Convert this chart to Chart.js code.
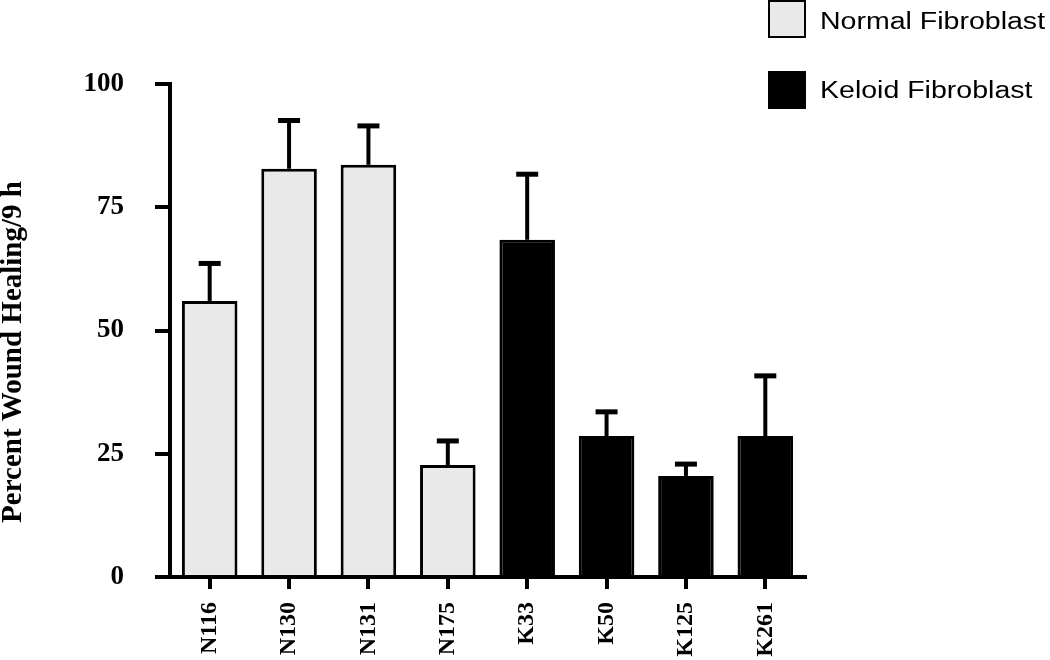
<!DOCTYPE html>
<html>
<head>
<meta charset="utf-8">
<script src="https://cdn.jsdelivr.net/npm/chart.js@4"></script>
<style>
  html, body { margin: 0; padding: 0; background: #fff; }
  #wrap { width: 1050px; height: 660px; }
</style>
</head>
<body>
<div id="wrap"><canvas id="bar-chart" width="1050" height="660"></canvas></div>
<script>
// data
var cellLines = ["N116", "N130", "N131", "N175", "K33", "K50", "K125", "K261"];
var normalHealing = [56.0, 82.8, 83.6, 22.7, null, null, null, null];
var keloidHealing = [null, null, null, null, 68.4, 28.6, 20.5, 28.6];
var healingError = [7.6, 9.8, 7.9, 4.9, 13.3, 4.9, 2.4, 12.2];
var yTicks = [0, 25, 50, 75, 100];

var serif = "'Liberation Serif', 'Times New Roman', serif";
var sans = "'Liberation Sans', Arial, sans-serif";

// upward-only error bars with a T cap
var errorBars = {
    id: "errorBars",
    afterDatasetsDraw: function (chart) {
        var ctx = chart.ctx;
        var y = chart.scales.y;
        ctx.save();
        ctx.strokeStyle = "#000";
        chart.data.datasets.forEach(function (ds, di) {
            var meta = chart.getDatasetMeta(di);
            meta.data.forEach(function (bar, i) {
                var v = ds.data[i];
                if (v === null) return;
                var top = y.getPixelForValue(v + healingError[i]);
                ctx.lineWidth = 4;
                ctx.beginPath();
                ctx.moveTo(bar.x, bar.y);
                ctx.lineTo(bar.x, top);
                ctx.stroke();
                ctx.lineWidth = 5;
                ctx.beginPath();
                ctx.moveTo(bar.x - 11, top);
                ctx.lineTo(bar.x + 11, top);
                ctx.stroke();
            });
        });
        ctx.restore();
    }
};

// legend box in the top right corner and the y axis title
var sideText = {
    id: "sideText",
    afterDraw: function (chart) {
        var ctx = chart.ctx;
        ctx.save();
        var boxTop = [1, 72];
        var baseline = [29, 98];
        chart.data.datasets.forEach(function (ds, di) {
            ctx.fillStyle = ds.backgroundColor;
            ctx.fillRect(769, boxTop[di], 36, 36);
            ctx.lineWidth = 2;
            ctx.strokeStyle = "#000";
            ctx.strokeRect(769, boxTop[di], 36, 36);
            ctx.save();
            ctx.fillStyle = "#000";
            ctx.font = "23px " + sans;
            ctx.textBaseline = "alphabetic";
            ctx.textAlign = "left";
            ctx.translate(820, baseline[di]);
            ctx.scale(1.24, 1);
            ctx.fillText(ds.label, 0, 0);
            ctx.restore();
        });
        ctx.translate(21, 352);
        ctx.rotate(-Math.PI / 2);
        ctx.font = "bold 29px " + serif;
        ctx.textAlign = "center";
        ctx.textBaseline = "alphabetic";
        ctx.fillStyle = "#000";
        ctx.fillText("Percent Wound Healing/9 h", 0, 0);
        ctx.restore();
    }
};

var ctx1 = document.getElementById("bar-chart").getContext("2d");
var myChart1 = new Chart(ctx1, {
    type: "bar",
    data: {
        labels: cellLines,
        datasets: [{
            label: "Normal Fibroblast",
            data: normalHealing,
            backgroundColor: "#e9e9e9",
            borderColor: "#000",
            borderWidth: 3,
            grouped: false
        }, {
            label: "Keloid Fibroblast",
            data: keloidHealing,
            backgroundColor: "#000",
            borderColor: "#000",
            borderWidth: 3,
            grouped: false
        }]
    },
    options: {
        responsive: false,
        animation: false,
        barPercentage: 0.7,
        categoryPercentage: 1.0,
        layout: { padding: { left: 0, right: 245, top: 84, bottom: 0 } },
        plugins: {
            legend: { display: false },
            tooltip: { enabled: false }
        },
        scales: {
            x: {
                afterFit: function (s) { s.height = 83; },
                border: { color: "#000", width: 4 },
                grid: { drawOnChartArea: false, offset: false, tickLength: 12, lineWidth: 4, color: "#000" },
                ticks: {
                    color: "#000",
                    minRotation: 90,
                    maxRotation: 90,
                    padding: 13,
                    font: { family: serif, size: 24, weight: "bold" }
                }
            },
            y: {
                min: 0,
                max: 100,
                afterFit: function (s) { s.width = 170; },
                afterBuildTicks: function (s) {
                    s.ticks = yTicks.map(function (v) { return { value: v }; });
                },
                border: { color: "#000", width: 4 },
                grid: { drawOnChartArea: false, tickLength: 15, lineWidth: 4, color: "#000" },
                ticks: {
                    color: "#000",
                    padding: 31,
                    font: { family: serif, size: 27, weight: "bold" }
                }
            }
        }
    },
    plugins: [errorBars, sideText]
});
</script>
</body>
</html>
